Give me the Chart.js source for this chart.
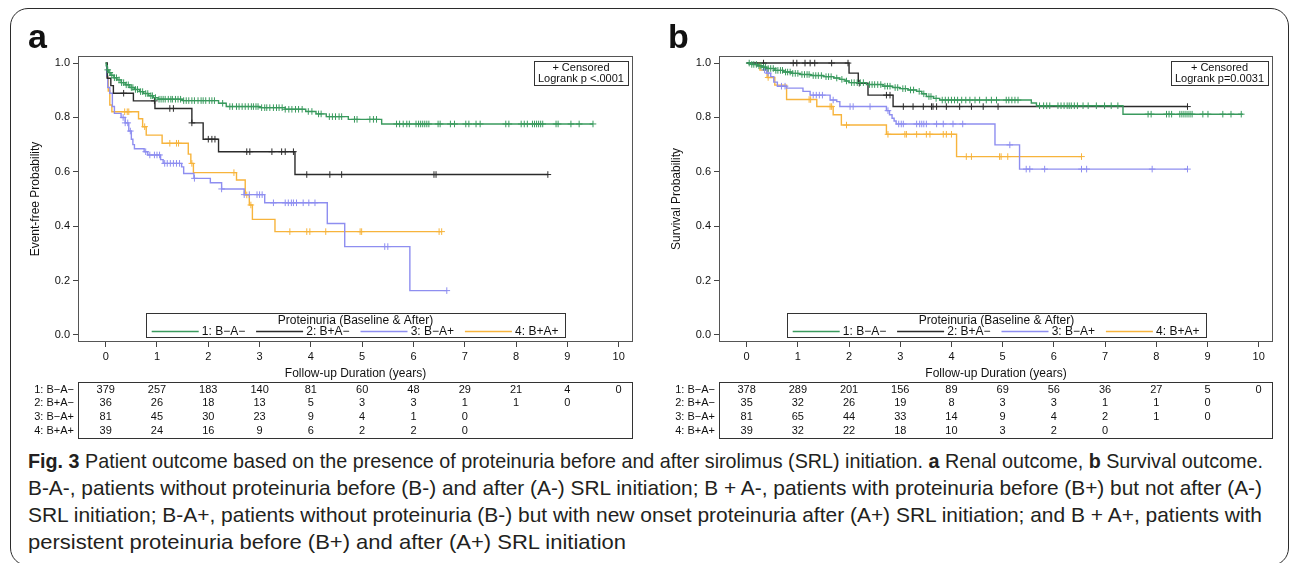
<!DOCTYPE html>
<html>
<head>
<meta charset="utf-8">
<script src="https://cdn.jsdelivr.net/npm/chart.js@4.4.1/dist/chart.umd.min.js"></script>
<style>
  html, body { margin: 0; padding: 0; background: #fff; }
  #fig { position: relative; width: 1292px; height: 563px; overflow: hidden; background: #fff; }
  #frame { position: absolute; left: 10px; top: 8px; width: 1279px; height: 558px; box-sizing: border-box;
           border: 1.5px solid #2b2b2b; border-radius: 18px; }
  canvas { position: absolute; top: 0; }
  #renal { left: 0; }
  #surv { left: 645px; }
  .tag { position: absolute; top: 19px; font: bold 34px "Liberation Sans", Arial, sans-serif; line-height: 34px; color: #111; }
  #cap { position: absolute; left: 28px; top: 447px; font-size: 21px; line-height: 27px; color: #231f20;
         font-family: "Liberation Sans Narrow", "Liberation Sans", Arial, sans-serif; }
  .ln { display: block; width: max-content; white-space: nowrap; transform-origin: 0 0; }
</style>
</head>
<body>
<div id="fig">
  <div id="frame"></div>
  <canvas id="renal" width="645" height="445"></canvas>
  <canvas id="surv" width="647" height="445"></canvas>
  <div class="tag" style="left:28px">a</div>
  <div class="tag" style="left:668px">b</div>
  <div id="cap">
    <div class="ln" data-w="1235"><b>Fig. 3</b> Patient outcome based on the presence of proteinuria before and after sirolimus (SRL) initiation. <b>a</b> Renal outcome, <b>b</b> Survival outcome.</div>
    <div class="ln" data-w="1234">B-A-, patients without proteinuria before (B-) and after (A-) SRL initiation; B + A-, patients with proteinuria before (B+) but not after (A-)</div>
    <div class="ln" data-w="1234">SRL initiation; B-A+, patients without proteinuria (B-) but with new onset proteinuria after (A+) SRL initiation; and B + A+, patients with</div>
    <div class="ln" data-w="598">persistent proteinuria before (B+) and after (A+) SRL initiation</div>
  </div>
</div>
<script>
const F = '"Liberation Sans", Arial, sans-serif';

const years = [0, 1, 2, 3, 4, 5, 6, 7, 8, 9, 10];
const groupLabels = ['1: B\u2212A\u2212', '2: B+A\u2212', '3: B\u2212A+', '4: B+A+'];
const groupColors = ['#3a9a5e', '#2b2b2b', '#8e8ef0', '#f7b43c'];

// panel a: renal outcome, KM steps [years, probability]
const renal1 = [[0,1],[0.01,0.99],[0.03,0.975],[0.06,0.965],[0.1,0.955],[0.16,0.946],[0.22,0.938],[0.3,0.928],[0.38,0.92],[0.47,0.91],[0.56,0.903],[0.66,0.895],[0.74,0.888],[0.84,0.88],[0.93,0.873],[1.02,0.867],[1.5,0.862],[2.2,0.852],[2.35,0.84],[3.0,0.836],[3.5,0.83],[3.9,0.822],[4.1,0.813],[4.3,0.803],[4.73,0.793],[5.38,0.776],[9.5,0.776]];
const renal2 = [[0,1],[0.03,0.944],[0.1,0.917],[0.15,0.889],[0.54,0.861],[0.96,0.833],[1.68,0.78],[1.9,0.72],[2.2,0.674],[3.69,0.59],[8.62,0.59]];
const renal3 = [[0,1],[0.02,0.95],[0.04,0.91],[0.08,0.889],[0.13,0.84],[0.17,0.815],[0.3,0.8],[0.38,0.78],[0.45,0.75],[0.5,0.72],[0.53,0.7],[0.56,0.685],[0.75,0.674],[0.82,0.662],[1.07,0.645],[1.12,0.631],[1.48,0.618],[1.52,0.594],[1.72,0.576],[2.04,0.56],[2.26,0.537],[2.7,0.516],[3.1,0.486],[4.32,0.41],[4.66,0.325],[5.93,0.163],[6.65,0.163]];
const renal4 = [[0,1],[0.02,0.949],[0.05,0.897],[0.08,0.846],[0.12,0.821],[0.64,0.795],[0.72,0.766],[0.79,0.735],[1.1,0.705],[1.61,0.665],[1.66,0.631],[1.71,0.597],[2.55,0.57],[2.72,0.515],[2.8,0.478],[2.86,0.425],[3.3,0.38],[6.55,0.38]];

// panel a: censoring times (years)
const renalCens1 = [0.04,0.08,0.12,0.17,0.21,0.26,0.31,0.35,0.4,0.44,0.5,0.53,0.58,0.62,0.68,0.72,0.78,0.82,0.88,0.91,0.97,1.04,1.08,1.12,1.16,1.22,1.27,1.3,1.36,1.41,1.46,1.52,1.57,1.62,1.68,1.73,1.8,1.86,1.9,1.95,2.02,2.07,2.12,2.28,2.42,2.47,2.55,2.6,2.66,2.72,2.78,2.84,2.88,2.93,2.97,3.04,3.1,3.14,3.2,3.27,3.33,3.38,3.44,3.5,3.57,3.63,3.7,3.76,3.83,3.95,4.02,4.15,4.2,4.36,4.42,4.48,4.55,4.6,4.85,4.9,5.15,5.22,5.28,5.67,5.73,5.8,5.87,5.92,6.05,6.1,6.14,6.18,6.22,6.26,6.3,6.48,6.52,6.72,6.8,7.02,7.08,7.22,7.3,7.8,7.86,8.1,8.16,8.22,8.32,8.36,8.4,8.44,8.48,8.52,8.78,8.82,9.07,9.23,9.5];
const renalCens2 = [0.35,0.95,1.25,1.32,1.68,2.0,2.07,2.13,2.75,2.81,3.24,3.43,3.5,3.66,3.92,4.37,4.6,6.4,6.44,8.62];
const renalCens3 = [0.34,0.38,0.43,0.48,0.78,0.86,0.95,1.0,1.05,1.15,1.2,1.26,1.32,1.38,1.44,1.73,2.26,2.7,2.8,2.95,3.0,3.05,3.27,3.5,3.56,3.62,3.66,3.72,3.85,3.96,4.08,5.44,5.5,6.65];
const renalCens4 = [0.37,0.42,0.45,0.76,1.25,1.38,1.42,1.68,2.5,2.75,2.83,3.59,3.92,3.98,4.29,4.96,4.99,6.5,6.55];

// panel a: number at risk
const renalRisk1 = [379, 257, 183, 140, 81, 60, 48, 29, 21, 4, 0];
const renalRisk2 = [36, 26, 18, 13, 5, 3, 3, 1, 1, 0];
const renalRisk3 = [81, 45, 30, 23, 9, 4, 1, 0];
const renalRisk4 = [39, 24, 16, 9, 6, 2, 2, 0];

// panel b: survival outcome
const surv1 = [[0,1],[0.1,0.995],[0.2,0.99],[0.3,0.985],[0.39,0.98],[0.55,0.973],[0.72,0.967],[0.88,0.962],[1.04,0.958],[1.25,0.954],[1.5,0.95],[1.7,0.945],[1.82,0.94],[1.92,0.934],[2.0,0.928],[2.34,0.921],[2.66,0.915],[2.85,0.91],[2.99,0.906],[3.15,0.901],[3.32,0.896],[3.42,0.887],[3.51,0.877],[3.65,0.87],[3.77,0.864],[5.56,0.853],[5.66,0.843],[7.35,0.812],[9.69,0.812]];
const surv2 = [[0,1],[2.0,0.963],[2.18,0.926],[2.37,0.882],[2.86,0.84],[8.61,0.84]];
const surv3 = [[0,1],[0.2,0.99],[0.33,0.975],[0.39,0.963],[0.47,0.95],[0.53,0.93],[0.6,0.915],[0.78,0.908],[1.1,0.896],[1.24,0.882],[1.63,0.864],[1.76,0.858],[1.82,0.84],[2.73,0.825],[2.79,0.81],[2.84,0.797],[2.88,0.787],[2.92,0.776],[4.85,0.699],[5.33,0.61],[8.61,0.61]];
const surv4 = [[0,1],[0.26,0.974],[0.4,0.947],[0.55,0.919],[0.78,0.866],[1.37,0.84],[1.69,0.81],[1.85,0.772],[2.73,0.738],[4.1,0.656],[6.54,0.656]];

const survCens1 = [0.05,0.1,0.14,0.19,0.24,0.28,0.33,0.37,0.42,0.47,0.52,0.57,0.61,0.66,0.7,0.76,0.8,0.85,0.9,0.95,1.0,1.08,1.13,1.18,1.22,1.3,1.35,1.4,1.46,1.55,1.6,1.65,1.76,1.86,1.95,2.05,2.1,2.16,2.22,2.28,2.4,2.45,2.5,2.56,2.62,2.7,2.75,2.8,2.9,2.95,3.05,3.1,3.2,3.26,3.37,3.46,3.56,3.6,3.7,3.82,3.88,3.94,4.0,4.06,4.12,4.2,4.28,4.36,4.46,4.55,4.68,4.78,4.88,5.07,5.12,5.18,5.24,5.3,5.72,5.8,5.86,5.92,6.08,6.14,6.2,6.26,6.3,6.34,6.4,6.46,6.57,6.67,6.83,6.99,7.12,7.25,7.84,7.9,8.2,8.25,8.3,8.46,8.5,8.54,8.58,8.62,8.66,8.7,8.91,9.01,9.3,9.46,9.66];
const survCens2 = [0.33,0.91,0.98,1.14,1.24,1.33,1.66,1.98,2.2,2.73,2.8,3.06,3.25,3.45,3.61,3.64,3.71,3.9,4.16,4.39,4.62,4.91,8.61];
const survCens3 = [0.35,0.42,0.68,0.75,1.3,1.36,1.42,1.48,1.69,2.02,2.08,2.41,2.76,2.97,3.02,3.06,3.32,3.38,3.42,3.46,3.51,3.71,3.84,4.03,4.22,5.14,5.46,5.53,5.82,6.54,6.64,7.92,8.61];
const survCens4 = [0.42,1.22,1.25,1.63,1.66,1.95,2.76,3.09,3.12,3.32,3.51,3.58,3.84,3.9,4.0,4.29,4.39,4.94,4.97,5.1,6.54];

const survRisk1 = [378, 289, 201, 156, 89, 69, 56, 36, 27, 5, 0];
const survRisk2 = [35, 32, 26, 19, 8, 3, 3, 1, 1, 0];
const survRisk3 = [81, 65, 44, 33, 14, 9, 4, 2, 1, 0];
const survRisk4 = [39, 32, 22, 18, 10, 3, 2, 0];

// value of the KM curve at time t (for placing censor marks on it)
function survAt(steps, t) {
  let s = steps[0][1];
  for (const [x, y] of steps) {
    if (x <= t) s = y; else break;
  }
  return s;
}

function buildDatasets(steps, cens) {
  const ds = [];
  steps.forEach((st, i) => {
    ds.push({
      data: cens[i].map(t => ({ x: t, y: survAt(st, t) })),
      showLine: false, pointStyle: 'cross', pointRadius: 3.3, pointBorderWidth: 1,
      pointBorderColor: groupColors[i], pointBackgroundColor: groupColors[i]
    });
    ds.push({
      data: st.map(([x, y]) => ({ x, y })),
      borderColor: groupColors[i], borderWidth: 1.4, stepped: true, pointRadius: 0, fill: false
    });
  });
  return ds;
}

// frame, censored box, SAS-style legend and at-risk table
const kmExtras = {
  id: 'kmExtras',
  afterDraw(chart, args, o) {
    const { ctx, chartArea: a, scales: { x } } = chart;
    ctx.save();
    ctx.lineWidth = 1;
    ctx.strokeStyle = '#555';
    ctx.strokeRect(Math.round(a.left) + 0.5, Math.round(a.top) + 0.5, Math.round(a.width) - 1, Math.round(a.height) - 1);

    // censored / logrank box
    ctx.font = '11px ' + F;
    const bw = Math.max(ctx.measureText('+ Censored').width, ctx.measureText(o.logrank).width) + 8;
    const bx = Math.round(a.right - 5 - bw), by = Math.round(a.top + 5);
    ctx.strokeStyle = '#333';
    ctx.strokeRect(bx + 0.5, by + 0.5, Math.round(bw), 24);
    ctx.fillStyle = '#111';
    ctx.textAlign = 'center';
    ctx.textBaseline = 'middle';
    ctx.fillText('+ Censored', bx + bw / 2, by + 6.8);
    ctx.fillText(o.logrank, bx + bw / 2, by + 18.3);

    // legend
    const lw = 419, lh = 24;
    const lx = Math.round((a.left + a.right) / 2 - lw / 2), ly = Math.round(a.bottom - 4.7 - lh);
    ctx.strokeStyle = '#333';
    ctx.strokeRect(lx + 0.5, ly + 0.5, lw, lh);
    ctx.font = '12px ' + F;
    ctx.fillText('Proteinuria (Baseline & After)', lx + lw / 2, ly + 7.2);
    groupLabels.forEach((lab, i) => {
      const sx = lx + 5.7 + 104.4 * i;
      ctx.strokeStyle = groupColors[i];
      ctx.lineWidth = 1.4;
      ctx.beginPath();
      ctx.moveTo(sx, ly + 18.5);
      ctx.lineTo(sx + 47, ly + 18.5);
      ctx.stroke();
      ctx.textAlign = 'right';
      ctx.fillText(lab, sx + 93.5, ly + 18.6);
    });

    // number at risk
    ctx.lineWidth = 1;
    ctx.strokeStyle = '#333';
    const tTop = Math.round(a.bottom + 39.7);
    ctx.strokeRect(Math.round(a.left) + 0.5, tTop + 0.5, Math.round(a.width) - 1, 56);
    ctx.font = '11px ' + F;
    o.risk.forEach((row, i) => {
      const yy = a.bottom + 47.6 + 13.8 * i;
      ctx.textAlign = 'right';
      ctx.fillText(groupLabels[i], a.left - 4, yy);
      ctx.textAlign = 'center';
      row.forEach((n, j) => ctx.fillText(String(n), x.getPixelForValue(years[j]), yy));
    });
    ctx.restore();
  }
};

function makeChart(id, cfg) {
  const tickFont = { size: 11, family: F };
  return new Chart(document.getElementById(id), {
    type: 'line',
    data: { datasets: buildDatasets(cfg.steps, cfg.cens) },
    options: {
      responsive: false,
      animation: false,
      devicePixelRatio: 1,
      events: [],
      layout: { padding: { left: 0, right: cfg.padRight, top: 56, bottom: 63.8 } },
      plugins: {
        legend: { display: false },
        tooltip: { enabled: false },
        kmExtras: { logrank: cfg.logrank, risk: cfg.risk }
      },
      scales: {
        x: {
          type: 'linear', min: -0.54, max: 10.28,
          afterFit: s => { s.height = 39.2; },
          ticks: { stepSize: 1, includeBounds: false, autoSkip: false, maxRotation: 0, padding: 3, color: '#111', font: tickFont },
          grid: { drawOnChartArea: false, drawTicks: true, tickLength: 5, color: '#444' },
          border: { display: false },
          title: { display: true, text: 'Follow-up Duration (years)', color: '#111', padding: 0, font: { size: 12, family: F } }
        },
        y: {
          type: 'linear', min: -0.026, max: 1.026,
          afterFit: s => { s.width = cfg.yWidth; },
          ticks: { stepSize: 0.2, includeBounds: false, padding: 3, color: '#111', font: tickFont, callback: v => v.toFixed(1) },
          grid: { drawOnChartArea: false, drawTicks: true, tickLength: 5, color: '#444' },
          border: { display: false },
          title: { display: true, text: cfg.yTitle, color: '#111', padding: { top: cfg.yTitlePad, bottom: 0 }, font: { size: 12, family: F } }
        }
      }
    },
    plugins: [kmExtras]
  });
}

makeChart('renal', {
  steps: [renal1, renal2, renal3, renal4],
  cens: [renalCens1, renalCens2, renalCens3, renalCens4],
  risk: [renalRisk1, renalRisk2, renalRisk3, renalRisk4],
  logrank: 'Logrank p <.0001',
  yTitle: 'Event-free Probability',
  yWidth: 78, yTitlePad: 28.8, padRight: 12
});

makeChart('surv', {
  steps: [surv1, surv2, surv3, surv4],
  cens: [survCens1, survCens2, survCens3, survCens4],
  risk: [survRisk1, survRisk2, survRisk3, survRisk4],
  logrank: 'Logrank p=0.0031',
  yTitle: 'Survival Probability',
  yWidth: 74, yTitlePad: 24.8, padRight: 19
});

// fit caption lines to the widths of the original typeset lines
document.querySelectorAll('.ln').forEach(el => {
  const w = el.getBoundingClientRect().width;
  el.style.transform = 'scaleX(' + (Number(el.dataset.w) / w) + ')';
});
</script>
</body>
</html>
